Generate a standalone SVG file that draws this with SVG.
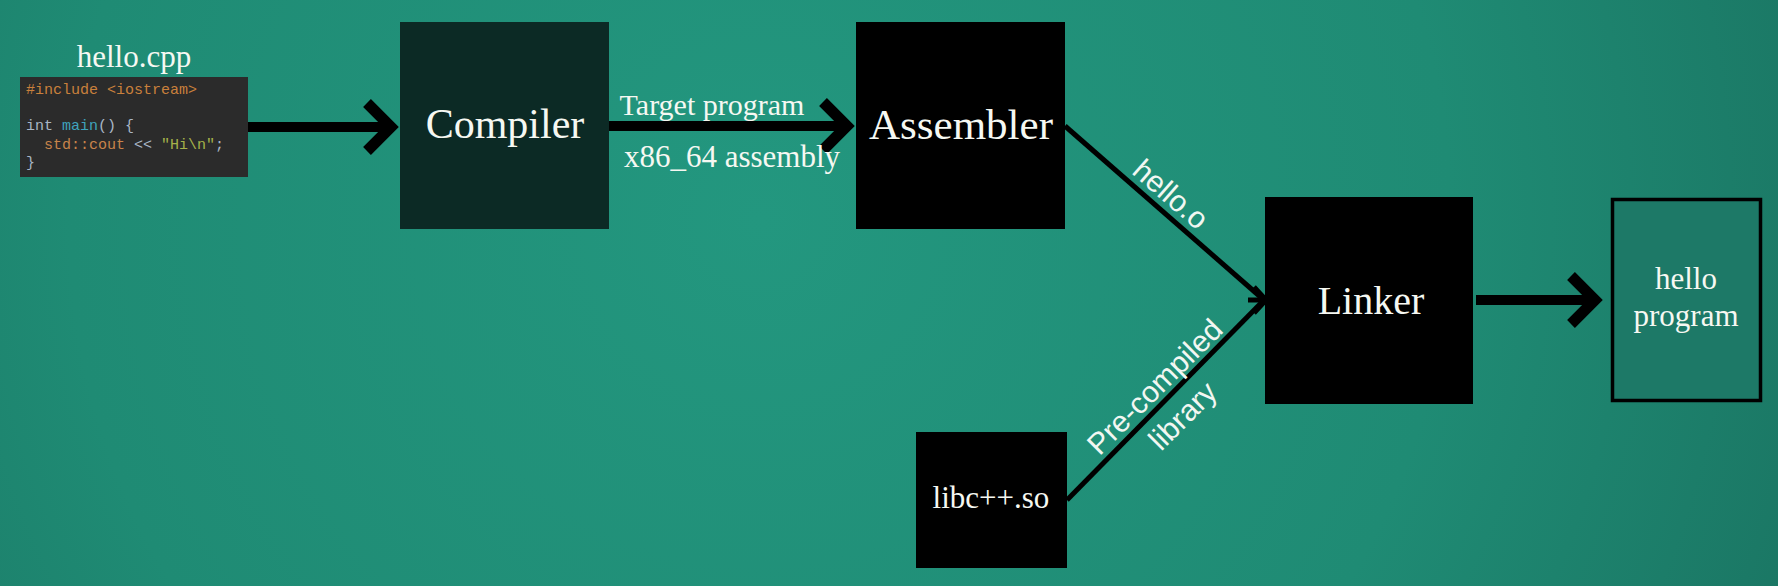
<svg xmlns="http://www.w3.org/2000/svg" width="1778" height="586" viewBox="0 0 1778 586">
<defs>
<radialGradient id="bg" cx="760" cy="220" r="1150" gradientUnits="userSpaceOnUse">
<stop offset="0" stop-color="#23977f"/>
<stop offset="0.6" stop-color="#1f8b74"/>
<stop offset="1" stop-color="#1a7462"/>
</radialGradient>
<style>
.box{fill:#000}
.lbl{font-family:"Liberation Serif",serif;fill:#f6f8f2;text-anchor:middle}
.sans{font-family:"Liberation Sans",sans-serif;fill:#f2f7f2;text-anchor:middle}
.code{font-family:"Liberation Mono",monospace;font-size:15px;fill:#a9b7c6}
.thick{stroke:#000;stroke-width:10;fill:none}
.head{stroke:#000;stroke-width:11;fill:none;stroke-linejoin:miter;stroke-miterlimit:10}
.thin{stroke:#000;stroke-width:5;fill:none}
</style>
</defs>
<rect x="0" y="0" width="1778" height="586" fill="url(#bg)"/>

<g id="source">
<text class="lbl" x="134" y="67" font-size="31">hello.cpp</text>
<rect x="20" y="77" width="228" height="100" fill="#2b2b2b"/>
<text class="code" x="26" y="94" xml:space="preserve"><tspan fill="#c9803c">#include &lt;iostream&gt;</tspan></text>
<text class="code" x="26" y="130" xml:space="preserve">int <tspan fill="#3fa3bd">main</tspan>() {</text>
<text class="code" x="26" y="149" xml:space="preserve">  <tspan fill="#c8844a">std::cout</tspan> &lt;&lt; <tspan fill="#a5b24a">"Hi\n"</tspan>;</text>
<text class="code" x="26" y="167" xml:space="preserve">}</text>
</g>

<g id="compiler">
<rect x="400" y="22" width="209" height="207" fill="#0c2a25"/>
<text class="lbl" x="505" y="138" font-size="42">Compiler</text>
</g>

<g id="assembler">
<rect class="box" x="856" y="22" width="209" height="207"/>
<text class="lbl" x="961" y="139" font-size="43">Assembler</text>
</g>

<g id="linker">
<rect class="box" x="1265" y="197" width="208" height="207"/>
<text class="lbl" x="1371" y="314" font-size="40">Linker</text>
</g>

<g id="libcxx">
<rect class="box" x="916" y="432" width="151" height="136"/>
<text class="lbl" x="991" y="508" font-size="31">libc++.so</text>
</g>

<g id="program">
<rect x="1612.5" y="199.5" width="148" height="201" fill="#1d7967" stroke="#000" stroke-width="3.5"/>
<text class="lbl" x="1686" y="289" font-size="31">hello</text>
<text class="lbl" x="1686" y="326" font-size="31">program</text>
</g>

<g id="connectors">
<line class="thick" x1="248" y1="127" x2="394" y2="127"/>
<polyline class="head" points="367,103 391,127 367,151"/>

<line class="thick" x1="609" y1="126" x2="850" y2="126"/>
<polyline class="head" points="823,102 847,126 823,150"/>
<text class="lbl" x="712" y="115" font-size="30">Target program</text>
<text class="lbl" x="732" y="167" font-size="31">x86_64 assembly</text>

<line class="thin" x1="1065" y1="126" x2="1264" y2="300"/>
<line class="thin" x1="1067" y1="500" x2="1264" y2="300"/>
<line class="thin" x1="1248" y1="300" x2="1266" y2="300"/>
<polyline class="thin" points="1254,287 1266,300 1254,313"/>
<text class="sans" transform="translate(1164,202) rotate(41)" font-size="30">hello.o</text>
<text class="sans" transform="translate(1162,394) rotate(-45)" font-size="30">Pre-compiled</text>
<text class="sans" transform="translate(1190,423) rotate(-45)" font-size="30">library</text>

<line class="thick" x1="1476" y1="300" x2="1598" y2="300"/>
<polyline class="head" points="1571,276 1595,300 1571,324"/>
</g>
</svg>
